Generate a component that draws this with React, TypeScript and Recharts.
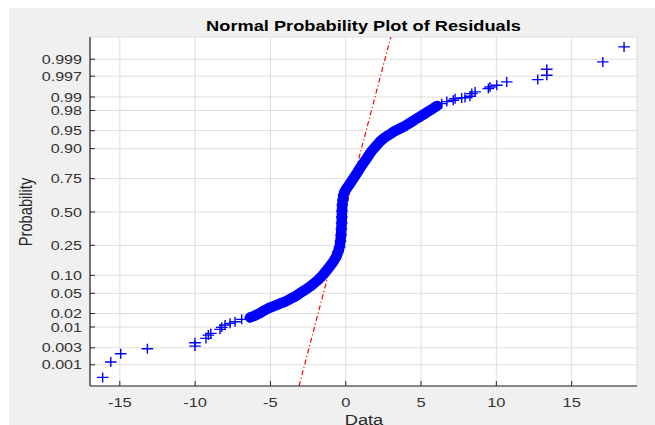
import React from 'react';
import { ScatterChart, Scatter, XAxis, YAxis, CartesianGrid } from 'recharts';

// ---------- data ----------
const xTicks = [-15, -10, -5, 0, 5, 10, 15];
const probLabels = ['0.001', '0.003', '0.01', '0.02', '0.05', '0.10', '0.25', '0.50', '0.75', '0.90', '0.95', '0.98', '0.99', '0.997', '0.999'];

// residuals (x) and their normal-quantile plotting positions (z)
const lowerTailResiduals = [-16.14, -15.6, -14.94, -13.17, -10.01, -10.01, -9.28, -9.12, -8.96, -8.35, -8.23, -8.01, -7.68, -7.35, -6.91];
const lowerTailQuantiles = [-3.346, -3.036, -2.868, -2.767, -2.713, -2.646, -2.557, -2.49, -2.456, -2.374, -2.334, -2.287, -2.253, -2.221, -2.172];

const bodyResiduals = [
  -6.35, -6.02, -5.69, -5.36, -5.03, -4.69, -4.36, -4.03, -3.7, -3.37, -3.03, -2.7, -2.37, -2.04, -1.84, -1.64, -1.44, -1.24, -1.04, -0.84, -0.64,
  -0.51, -0.41, -0.35, -0.31, -0.29, -0.27, -0.26, -0.25, -0.23, -0.19, -0.15, -0.05, 0.15, 0.35, 0.55, 0.75, 0.95, 1.18, 1.41, 1.61, 1.81,
  2.05, 2.28, 2.51, 2.74, 2.97, 3.21, 3.41, 3.67, 3.94, 4.2, 4.47, 4.73, 5.0, 5.27, 5.53, 5.8, 6.06,
];
const bodyQuantiles = [
  -2.132, -2.095, -2.045, -1.984, -1.933, -1.893, -1.852, -1.816, -1.761, -1.711, -1.64, -1.579, -1.508, -1.427, -1.377, -1.316, -1.245, -1.174,
  -1.093, -1.012, -0.911, -0.81, -0.709, -0.587, -0.466, -0.344, -0.223, -0.101, 0.02, 0.142, 0.243, 0.344, 0.425, 0.516, 0.607, 0.698, 0.789,
  0.891, 0.992, 1.093, 1.184, 1.265, 1.346, 1.427, 1.488, 1.538, 1.579, 1.63, 1.66, 1.7, 1.741, 1.791, 1.842, 1.893, 1.943, 1.994, 2.045, 2.095, 2.146,
];

const upperTailResiduals = [6.37, 6.71, 7.14, 7.26, 7.7, 7.92, 8.25, 8.37, 8.59, 9.47, 9.58, 10.03, 10.69, 12.75, 13.35, 13.35, 17.07, 18.48];
const upperTailQuantiles = [2.192, 2.233, 2.261, 2.293, 2.308, 2.314, 2.342, 2.395, 2.429, 2.496, 2.53, 2.565, 2.632, 2.678, 2.767, 2.889, 3.036, 3.34];

// red dash-dot reference line end points
const refLineResiduals = [-3.1, 2.99];
const refLineQuantiles = [-3.52, 3.54];

// ---------- helpers ----------
const zip = (xs: number[], zs: number[]) => xs.map((x, i) => ({ x, z: zs[i] }));

// inverse standard normal CDF (probability-axis scale)
function probit(p: number): number {
  const a = [-3.969683028665376e1, 2.209460984245205e2, -2.759285104469687e2, 1.38357751867269e2, -3.066479806614716e1, 2.506628277459239];
  const b = [-5.447609879822406e1, 1.615858368580409e2, -1.556989798598866e2, 6.680131188771972e1, -1.328068155288572e1];
  const c = [-7.784894002430293e-3, -3.223964580411365e-1, -2.400758277161838, -2.549732539343734, 4.374664141464968, 2.938163982698783];
  const d = [7.784695709041462e-3, 3.224671290700398e-1, 2.445134137142996, 3.754408661907416];
  const pl = 0.02425;
  if (p < pl) {
    const q = Math.sqrt(-2 * Math.log(p));
    return (((((c[0] * q + c[1]) * q + c[2]) * q + c[3]) * q + c[4]) * q + c[5]) / ((((d[0] * q + d[1]) * q + d[2]) * q + d[3]) * q + 1);
  }
  if (p <= 1 - pl) {
    const q = p - 0.5;
    const r = q * q;
    return ((((((a[0] * r + a[1]) * r + a[2]) * r + a[3]) * r + a[4]) * r + a[5]) * q) / (((((b[0] * r + b[1]) * r + b[2]) * r + b[3]) * r + b[4]) * r + 1);
  }
  const q = Math.sqrt(-2 * Math.log(1 - p));
  return -(((((c[0] * q + c[1]) * q + c[2]) * q + c[3]) * q + c[4]) * q + c[5]) / ((((d[0] * q + d[1]) * q + d[2]) * q + d[3]) * q + 1);
}

const yTicks = probLabels.map((l) => probit(parseFloat(l)));

const lowerTail = zip(lowerTailResiduals, lowerTailQuantiles);
const body = zip(bodyResiduals, bodyQuantiles);
const upperTail = zip(upperTailResiduals, upperTailQuantiles);
const refLine = zip(refLineResiduals, refLineQuantiles);

const FONT = '"Liberation Sans", Arial, Helvetica, sans-serif';
const STRETCH = 1.24;
const BLUE = '#0000ff';

const Plus = (props: any) => {
  const { cx, cy } = props;
  if (cx == null || cy == null) return <g />;
  return <path d={`M${cx - 5.8},${cy}h11.6M${cx},${cy - 5}v10`} stroke={BLUE} strokeWidth={1.4} fill="none" />;
};

const NoDot = () => <g />;

const XTick = (props: any) => {
  const { x, y, payload } = props;
  return (
    <text transform={`translate(${x},${y}) scale(${STRETCH},1)`} textAnchor="middle" dy="0.71em" fontSize={13.3} fill="#333333" fontFamily={FONT}>
      {String(payload.value)}
    </text>
  );
};

const YTick = (props: any) => {
  const { x, y, payload } = props;
  const idx = yTicks.indexOf(payload.value);
  return (
    <text transform={`translate(${x},${y}) scale(${STRETCH},1)`} textAnchor="end" dy="0.355em" fontSize={13} fill="#333333" fontFamily={FONT}>
      {idx >= 0 ? probLabels[idx] : ''}
    </text>
  );
};

export default function App() {
  return (
    <div style={{ position: 'fixed', left: 0, top: 0, width: 655, height: 425, background: '#ffffff', overflow: 'hidden' }}>
      <div style={{ position: 'absolute', left: 9, top: 8, width: 646, height: 417, background: '#f0f0f0' }} />
      <div style={{ position: 'absolute', left: 0, top: 0 }}>
        <ScatterChart width={655} height={425} margin={{ top: 37, right: 18, left: 30, bottom: 9 }}>
          <CartesianGrid stroke="#dedede" fill="#ffffff" fillOpacity={1} />
          <XAxis
            type="number"
            dataKey="x"
            domain={[-16.98, 19.34]}
            allowDataOverflow
            ticks={xTicks}
            interval={0}
            height={30}
            tickSize={-5}
            tickMargin={17}
            axisLine={{ stroke: '#262626', strokeWidth: 1.2 }}
            tickLine={{ stroke: '#262626' }}
            tick={XTick}
          />
          <YAxis
            type="number"
            dataKey="z"
            domain={[-3.52, 3.54]}
            allowDataOverflow
            ticks={yTicks}
            interval={0}
            width={60}
            tickSize={-5}
            tickMargin={13}
            axisLine={{ stroke: '#262626', strokeWidth: 1.2 }}
            tickLine={{ stroke: '#262626' }}
            tick={YTick}
          />
          <Scatter
            data={refLine}
            shape={NoDot}
            line={{ stroke: '#ff0000', strokeWidth: 1.2, strokeDasharray: '5 2.5 1.2 2.5' }}
            lineType="joint"
            isAnimationActive={false}
          />
          <Scatter
            data={body}
            shape={Plus}
            line={{ stroke: BLUE, strokeWidth: 10.5, strokeLinecap: 'round', strokeLinejoin: 'round' }}
            lineType="joint"
            isAnimationActive={false}
          />
          <Scatter data={lowerTail} shape={Plus} isAnimationActive={false} />
          <Scatter data={upperTail} shape={Plus} isAnimationActive={false} />
        </ScatterChart>
      </div>
      <svg width={655} height={425} style={{ position: 'absolute', left: 0, top: 0, pointerEvents: 'none' }}>
        <text transform={`translate(363.5,30.5) scale(${STRETCH},1)`} textAnchor="middle" fontSize={14.7} fontWeight="bold" fill="#000000" fontFamily={FONT}>
          Normal Probability Plot of Residuals
        </text>
        <text transform={`translate(364,424.5) scale(${STRETCH},1)`} textAnchor="middle" fontSize={14.7} fill="#262626" fontFamily={FONT}>
          Data
        </text>
        <text transform={`translate(31.5,212) rotate(-90) scale(1,${STRETCH})`} textAnchor="middle" fontSize={14.7} fill="#262626" fontFamily={FONT}>
          Probability
        </text>
      </svg>
    </div>
  );
}
